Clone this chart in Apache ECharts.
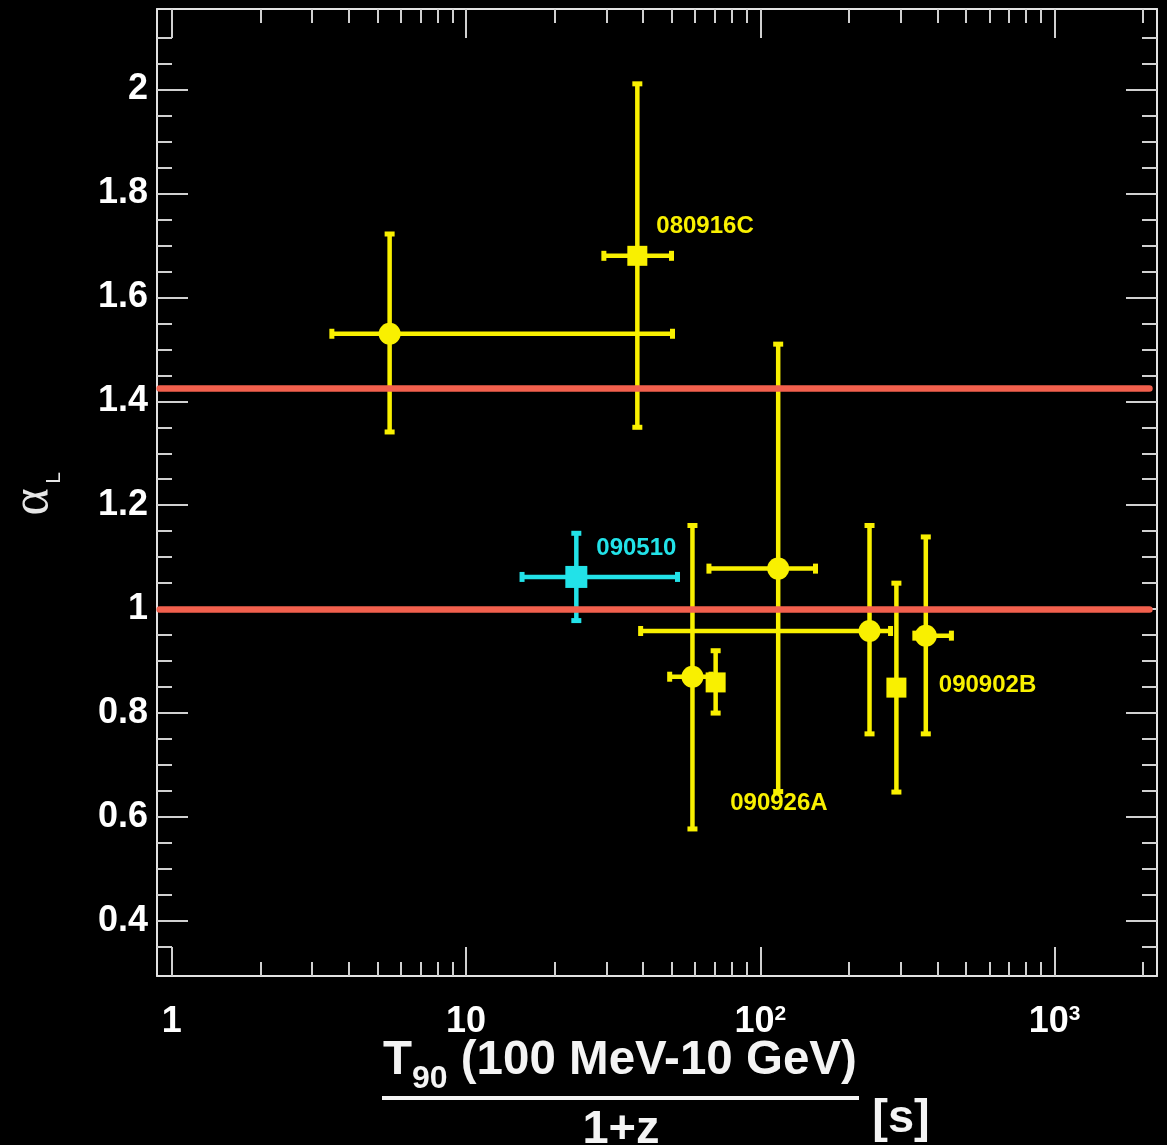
<!DOCTYPE html>
<html>
<head>
<meta charset="utf-8">
<script src="https://cdn.jsdelivr.net/npm/echarts@6/dist/echarts.min.js"></script>
<style>
  html, body { margin: 0; padding: 0; background: #000; }
  #chart { width: 1167px; height: 1145px; }
</style>
</head>
<body>
<div id="chart"></div>
<script>
// Fermi-LAT bursts: rest-frame high-energy duration vs. late-time decay index alpha_L
const grbNames  = ['', '080916C', '090510', '', '', '090926A', '', '', '090902B'];
const t90       = [5.5, 38.2, 23.7, 58.8, 70.5, 115, 235, 290, 365];
const t90Low    = [3.5, 29.4, 15.5, 49.2, 70.5, 66.9, 39.2, 290, 335];
const t90High   = [50.3, 49.9, 52.3, 68, 70.5, 154, 277, 290, 446];
const alphaL    = [1.53, 1.68, 1.062, 0.87, 0.859, 1.078, 0.958, 0.849, 0.949];
const alphaLow  = [1.341, 1.35, 0.978, 0.577, 0.80, 0.649, 0.76, 0.648, 0.76];
const alphaHigh = [1.722, 2.011, 1.146, 1.161, 0.92, 1.51, 1.161, 1.05, 1.139];
const markerShape = ['circle', 'square', 'square', 'circle', 'square', 'circle', 'circle', 'square', 'circle'];
const isShortBurst = [false, false, true, false, false, false, false, false, false];

// horizontal reference levels of alpha_L
const refLevels = [1.425, 1.0];
const refSpan = [0.91, 2100];

// axis ranges and ticks
const xRange = [0.891, 2228];
const yRange = [0.294, 2.155];
const xMajorTicks = [1, 10, 100, 1000];
const xMinorTicks = [2, 3, 4, 5, 6, 7, 8, 9, 20, 30, 40, 50, 60, 70, 80, 90,
                     200, 300, 400, 500, 600, 700, 800, 900, 2000];
const yMajorTicks = [0.4, 0.6, 0.8, 1.0, 1.2, 1.4, 1.6, 1.8, 2.0];
const yMinorTicks = [0.35, 0.45, 0.5, 0.55, 0.65, 0.7, 0.75, 0.85, 0.9, 0.95,
                     1.05, 1.1, 1.15, 1.25, 1.3, 1.35, 1.45, 1.5, 1.55, 1.65, 1.7, 1.75,
                     1.85, 1.9, 1.95, 2.05, 2.1];

// ---- styling ----
const FONT = '"Liberation Sans", Arial, Helvetica, sans-serif';
const YELLOW = '#f9f000';
const CYAN = '#22e2e8';
const RED = '#f2604d';
const FRAME = '#e2e2e2';
const TICK = '#d0d0d0';

// where each burst name sits relative to its point (or to the lower end of its bar)
const labelPlacement = {
  '080916C': { anchor: 'center', dx: 19, dy: -29 },
  '090510':  { anchor: 'center', dx: 20, dy: -29 },
  '090926A': { anchor: 'low',    dx: -48, dy: 12 },
  '090902B': { anchor: 'center', dx: 13, dy: 50 }
};

const points = t90.map((x, i) => [x, alphaL[i], t90Low[i], t90High[i], alphaLow[i], alphaHigh[i]]);

function xAxisDef(position, ticks, len, withLine, withLabels) {
  return {
    type: 'log', logBase: 10, gridIndex: 0, position: position,
    min: xRange[0], max: xRange[1],
    axisLine: { show: withLine, onZero: false, lineStyle: { color: FRAME, width: 2 } },
    axisTick: { show: true, inside: true, length: len, customValues: ticks,
                lineStyle: { color: TICK, width: 2 } },
    minorTick: { show: false },
    splitLine: { show: false },
    axisLabel: withLabels ? {
      show: true, customValues: xMajorTicks, margin: 28,
      color: '#fff', fontSize: 36, fontWeight: 'bold', fontFamily: FONT,
      formatter: function (v) {
        const e = Math.round(Math.log10(v));
        return e <= 1 ? String(Math.round(v)) : '10{sup|' + e + '}';
      },
      rich: { sup: { fontSize: 21, fontWeight: 'bold', fontFamily: FONT, color: '#fff', verticalAlign: 'top' } }
    } : { show: false }
  };
}

function yAxisDef(position, ticks, len, withLine, withLabels) {
  return {
    type: 'value', gridIndex: 0, position: position,
    min: yRange[0], max: yRange[1],
    axisLine: { show: withLine, onZero: false, lineStyle: { color: FRAME, width: 2 } },
    axisTick: { show: true, inside: true, length: len, customValues: ticks,
                lineStyle: { color: TICK, width: 2 } },
    minorTick: { show: false },
    splitLine: { show: false },
    axisLabel: withLabels ? {
      show: true, customValues: yMajorTicks, margin: 9,
      color: '#fff', fontSize: 36, fontWeight: 'bold', fontFamily: FONT,
      formatter: function (v) { return String(+v.toFixed(1)); }
    } : { show: false }
  };
}

function renderPoint(params, api) {
  const i = params.dataIndex;
  const xv = api.value(0), yv = api.value(1);
  const c = api.coord([xv, yv]);
  const xl = api.coord([api.value(2), yv]);
  const xh = api.coord([api.value(3), yv]);
  const yl = api.coord([xv, api.value(4)]);
  const yh = api.coord([xv, api.value(5)]);
  const color = isShortBurst[i] ? CYAN : YELLOW;
  const lw = 4.5, capLong = 10, capShort = 5;
  const children = [];

  if (xh[0] - xl[0] > 1) {
    children.push({ type: 'line', shape: { x1: xl[0], y1: c[1], x2: xh[0], y2: c[1] },
                    style: { stroke: color, lineWidth: lw } });
    [xl[0], xh[0]].forEach(function (px) {
      children.push({ type: 'rect', shape: { x: px - capShort / 2, y: c[1] - capLong / 2, width: capShort, height: capLong },
                      style: { fill: color } });
    });
  }
  if (yl[1] - yh[1] > 1) {
    children.push({ type: 'line', shape: { x1: c[0], y1: yh[1], x2: c[0], y2: yl[1] },
                    style: { stroke: color, lineWidth: lw } });
    [yh[1], yl[1]].forEach(function (py) {
      children.push({ type: 'rect', shape: { x: c[0] - capLong / 2, y: py - capShort / 2, width: capLong, height: capShort },
                      style: { fill: color } });
    });
  }
  if (markerShape[i] === 'circle') {
    children.push({ type: 'circle', shape: { cx: c[0], cy: c[1], r: 11 }, style: { fill: color } });
  } else {
    const s = isShortBurst[i] ? 22 : 20;
    children.push({ type: 'rect', shape: { x: c[0] - s / 2, y: c[1] - s / 2, width: s, height: s }, style: { fill: color } });
  }
  const name = grbNames[i];
  if (name) {
    const p = labelPlacement[name];
    const base = p.anchor === 'low' ? [c[0], yl[1]] : c;
    children.push({ type: 'text', x: base[0] + p.dx, y: base[1] + p.dy,
                    style: { text: name, fill: color, font: 'bold 24px ' + FONT,
                             align: 'left', verticalAlign: 'middle' } });
  }
  return { type: 'group', children: children };
}

const chart = echarts.init(document.getElementById('chart'), null, { renderer: 'canvas' });

chart.setOption({
  backgroundColor: '#000',
  animation: false,
  grid: { left: 157, right: 10, top: 9, bottom: 169, containLabel: false, outerBoundsMode: 'none' },
  xAxis: [
    xAxisDef('bottom', xMajorTicks, 29, true, true),
    xAxisDef('bottom', xMinorTicks, 14, false, false),
    xAxisDef('top', xMajorTicks, 29, true, false),
    xAxisDef('top', xMinorTicks, 14, false, false)
  ],
  yAxis: [
    yAxisDef('left', yMajorTicks, 31, true, true),
    yAxisDef('left', yMinorTicks, 15, false, false),
    yAxisDef('right', yMajorTicks, 31, true, false),
    yAxisDef('right', yMinorTicks, 15, false, false)
  ],
  series: [
    {
      type: 'line', xAxisIndex: 0, yAxisIndex: 0, data: [], z: 1, silent: true,
      markLine: {
        silent: true, symbol: 'none', animation: false,
        label: { show: false },
        lineStyle: { color: RED, width: 6.5, type: 'solid', cap: 'round' },
        emphasis: { disabled: true },
        data: refLevels.map(function (v) { return [{ coord: [refSpan[0], v] }, { coord: [refSpan[1], v] }]; })
      }
    },
    {
      type: 'custom', xAxisIndex: 0, yAxisIndex: 0, z: 3, clip: false, silent: true,
      encode: { x: [0, 2, 3], y: [1, 4, 5] },
      data: points,
      renderItem: renderPoint
    }
  ],
  graphic: [
    // y-axis title: alpha with subscript L, reading upwards
    { type: 'text', x: 33, y: 502, rotation: Math.PI / 2,
      style: { text: 'α', fill: '#e6e6e6', font: '52px "Liberation Serif", "DejaVu Serif", serif',
               align: 'center', verticalAlign: 'middle' } },
    { type: 'text', x: 54, y: 478, rotation: Math.PI / 2,
      style: { text: 'L', fill: '#e6e6e6', font: '21px ' + FONT,
               align: 'center', verticalAlign: 'middle' } },
    // x-axis title: T90 (100 MeV-10 GeV) over (1+z), in seconds
    { type: 'text', x: 383, y: 1026,
      style: { text: '{m|T}{s|90}{m| (100 MeV-10 GeV)}', align: 'left', verticalAlign: 'top',
               rich: {
                 m: { fontSize: 47.5, fontWeight: 'bold', fontFamily: FONT, fill: '#f4f4f4', lineHeight: 70 },
                 s: { fontSize: 32, fontWeight: 'bold', fontFamily: FONT, fill: '#f4f4f4', lineHeight: 32,
                      verticalAlign: 'top', padding: [37, 0, 0, 0] }
               } } },
    { type: 'rect', shape: { x: 382, y: 1096, width: 477, height: 4 }, style: { fill: '#f4f4f4' } },
    { type: 'text', x: 621, y: 1130,
      style: { text: '1+z', fill: '#f4f4f4', font: 'bold 47px ' + FONT, align: 'center', verticalAlign: 'middle' } },
    { type: 'text', x: 901, y: 1119,
      style: { text: '[s]', fill: '#f4f4f4', font: 'bold 47px ' + FONT, align: 'center', verticalAlign: 'middle' } }
  ]
});
</script>
</body>
</html>
